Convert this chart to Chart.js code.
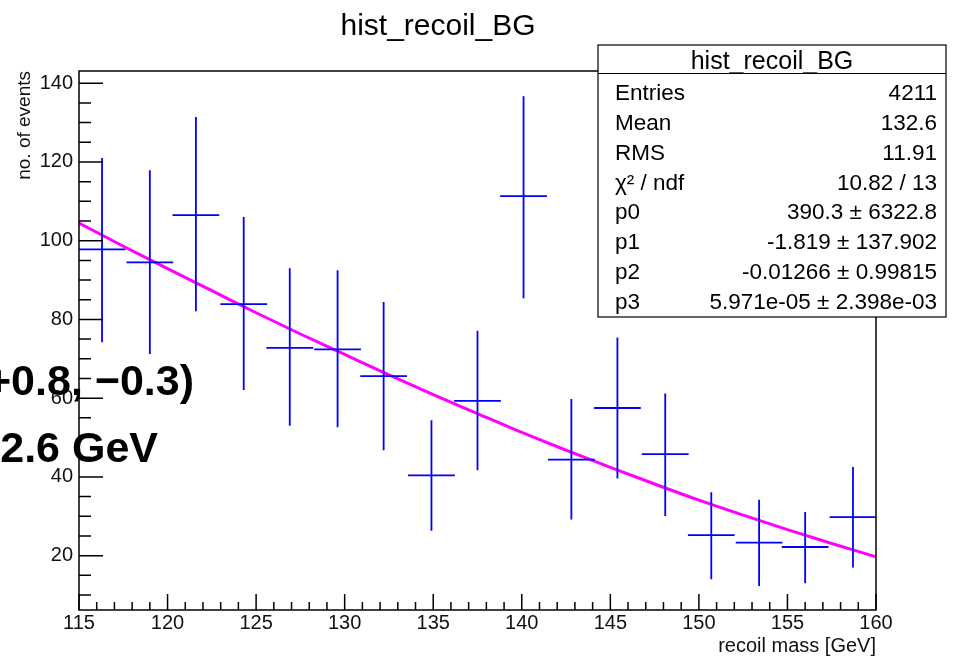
<!DOCTYPE html>
<html lang="en">
<head>
<meta charset="UTF-8">
<title>hist_recoil_BG</title>
<script src="https://cdn.jsdelivr.net/npm/chart.js"></script>
<style>
  body { margin: 0; background: #fff; }
  #wrap { width: 955px; height: 661px; }
</style>
</head>
<body>
<div id="wrap"><canvas id="histChart"></canvas></div>
<script>
// histogram bins (recoil mass in GeV)
const binCenters = [116.3, 119.0, 121.6, 124.3, 126.9, 129.6, 132.2, 134.9, 137.5, 140.1, 142.8, 145.4, 148.1, 150.7, 153.4, 156.0, 158.7];
const binHalfWidth = 1.32;
const counts    = [97.8, 94.5, 106.5, 83.9, 72.8, 72.4, 65.6, 40.4, 59.3, 111.3, 44.4, 57.5, 45.8, 25.2, 23.3, 22.2, 29.8];
const barTop    = [121.0, 117.9, 131.4, 106.0, 93.0, 92.5, 84.4, 54.4, 77.1, 136.7, 59.8, 75.4, 61.2, 36.1, 34.2, 31.1, 42.5];
const barBottom = [74.2, 71.2, 82.1, 62.1, 53.0, 52.6, 46.8, 26.3, 41.7, 85.4, 29.2, 39.6, 30.1, 14.0, 12.3, 13.0, 17.0];

// magenta fit line
const fitX = [115, 117.5, 120, 122.5, 125, 127.5, 130, 132.5, 135, 137.5, 140, 142.5, 145, 147.5, 150, 152.5, 155, 157.5, 160];
const fitY = [104.5, 98.6, 92.9, 87.3, 81.7, 76.3, 71.1, 65.9, 60.9, 56.1, 51.3, 46.8, 42.4, 38.2, 34.1, 30.3, 26.6, 23.1, 19.7];

const xTickValues = [115, 120, 125, 130, 135, 140, 145, 150, 155, 160];
const yTickValues = [20, 40, 60, 80, 100, 120, 140];

const statsTitle = 'hist_recoil_BG';
const statsLabels = ['Entries', 'Mean', 'RMS', 'χ² / ndf', 'p0', 'p1', 'p2', 'p3'];
const statsValues = ['4211', '132.6', '11.91', '10.82 / 13', '390.3 ± 6322.8', '-1.819 ± 137.902', '-0.01266 ± 0.99815', '5.971e-05 ± 2.398e-03'];

// slide text pasted over the left side of the plot
const overlayLines = ['+0.8, −0.3)', '2.6 GeV'];

const FONT = "'Liberation Sans', Arial, sans-serif";

// error bar crosses as one broken line
const errorBarPoints = [];
binCenters.forEach((c, i) => {
  errorBarPoints.push(
    { x: c - binHalfWidth, y: counts[i] }, { x: c + binHalfWidth, y: counts[i] }, { x: c, y: null },
    { x: c, y: barBottom[i] }, { x: c, y: barTop[i] }, { x: c, y: null }
  );
});

const rootDecor = {
  id: 'rootDecor',
  afterDatasetsDraw(chart) {
    const { ctx, chartArea: a, scales: { x, y } } = chart;
    ctx.save();
    ctx.strokeStyle = '#000';
    ctx.lineWidth = 1.5;
    ctx.strokeRect(a.left, a.top, a.right - a.left, a.bottom - a.top);
    ctx.beginPath();
    // ticks point into the frame like ROOT
    for (let v = 115; v <= 160; v++) {
      const px = x.getPixelForValue(v);
      const len = v % 5 === 0 ? 16 : 8;
      ctx.moveTo(px, a.bottom);
      ctx.lineTo(px, a.bottom - len);
    }
    for (let v = 10; v <= 140; v += 5) {
      const py = y.getPixelForValue(v);
      const len = v % 20 === 0 ? 24 : 12;
      ctx.moveTo(a.left, py);
      ctx.lineTo(a.left + len, py);
    }
    ctx.stroke();
    ctx.restore();
  },
  afterDraw(chart) {
    const ctx = chart.ctx;
    ctx.save();
    // stats box
    const bx = 598, by = 45, bw = 348, bh = 272;
    ctx.fillStyle = '#fff';
    ctx.fillRect(bx, by, bw, bh);
    ctx.strokeStyle = '#000';
    ctx.lineWidth = 1.2;
    ctx.strokeRect(bx, by, bw, bh);
    ctx.beginPath();
    ctx.moveTo(bx, 73.5);
    ctx.lineTo(bx + bw, 73.5);
    ctx.stroke();
    ctx.fillStyle = '#000';
    ctx.textBaseline = 'middle';
    ctx.textAlign = 'center';
    ctx.font = '25px ' + FONT;
    ctx.fillText(statsTitle, bx + bw / 2, 62.5);
    ctx.font = '22.5px ' + FONT;
    statsLabels.forEach((lab, i) => {
      const ry = 94 + i * 29.8;
      ctx.textAlign = 'left';
      ctx.fillText(lab, 615, ry);
      ctx.textAlign = 'right';
      ctx.fillText(statsValues[i], 937, ry);
    });
    // overlay text
    ctx.font = "bold 43px 'Liberation Sans', Arial, sans-serif";
    ctx.textBaseline = 'alphabetic';
    ctx.textAlign = 'right';
    ctx.fillText(overlayLines[0], 194, 395);
    ctx.fillText(overlayLines[1], 158, 462);
    ctx.restore();
  }
};

new Chart(document.getElementById('histChart'), {
  type: 'line',
  data: {
    datasets: [
      {
        data: errorBarPoints,
        borderColor: '#0000ff',
        borderWidth: 1.8,
        pointRadius: 0,
        spanGaps: false,
        tension: 0
      },
      {
        data: fitX.map((v, i) => ({ x: v, y: fitY[i] })),
        borderColor: '#ff00ff',
        borderWidth: 3,
        pointRadius: 0,
        cubicInterpolationMode: 'monotone'
      }
    ]
  },
  options: {
    responsive: true,
    maintainAspectRatio: false,
    animation: false,
    devicePixelRatio: 1,
    layout: { padding: { left: 0, right: 79, top: 0, bottom: 0 } },
    plugins: {
      legend: { display: false },
      tooltip: { enabled: false },
      title: {
        display: true,
        text: 'hist_recoil_BG',
        color: '#000',
        font: { family: FONT, size: 30, weight: 'normal', lineHeight: 1.2 },
        padding: { top: 9, bottom: 26 }
      }
    },
    scales: {
      x: {
        type: 'linear',
        min: 115,
        max: 160,
        afterBuildTicks: (scale) => { scale.ticks = xTickValues.map(v => ({ value: v })); },
        afterFit: (scale) => { scale.height = 51; },
        grid: { display: false, drawTicks: false },
        border: { display: false },
        ticks: { autoSkip: false, maxRotation: 0, padding: 1, color: '#111', font: { family: FONT, size: 20 } },
        title: {
          display: true,
          text: 'recoil mass [GeV]',
          align: 'end',
          color: '#111',
          font: { family: FONT, size: 20 },
          padding: { top: 0, bottom: 3 }
        }
      },
      y: {
        type: 'linear',
        min: 6.2,
        max: 143.1,
        afterBuildTicks: (scale) => { scale.ticks = yTickValues.map(v => ({ value: v })); },
        afterFit: (scale) => { scale.width = 79; },
        grid: { display: false, drawTicks: false },
        border: { display: false },
        ticks: { padding: 6, color: '#111', font: { family: FONT, size: 20 } },
        title: {
          display: true,
          text: 'no. of events',
          align: 'end',
          color: '#111',
          font: { family: FONT, size: 19 },
          padding: { top: 13, bottom: 0 }
        }
      }
    }
  },
  plugins: [rootDecor]
});
</script>
</body>
</html>
